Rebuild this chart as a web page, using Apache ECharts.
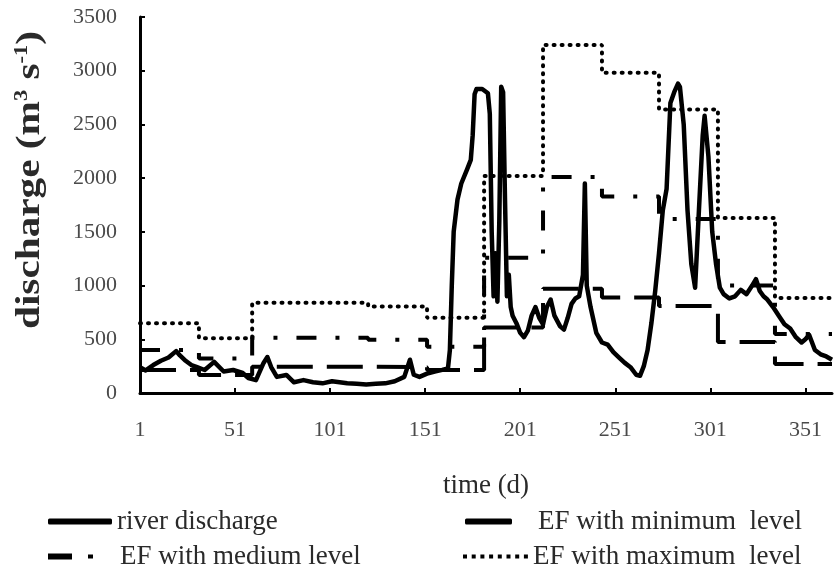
<!DOCTYPE html>
<html>
<head>
<meta charset="utf-8">
<script src="https://cdn.jsdelivr.net/npm/echarts@6/dist/echarts.min.js"></script>
<style>
html,body{margin:0;padding:0;background:#fff;}
#chart{width:835px;height:575px;}
</style>
</head>
<body>
<div id="chart"></div>
<script>
// ---- data ----
const riverDays = [1,4,8,12,16,20,22,25,28,31,35,40,45,50,55,58,62,66,68,70,73,78,82,87,92,97,102,106,110,115,120,125,130,135,140,143,145,148,152,156,160,163,164,165,166,168,170,173,175,176,177,178,181,184,185,186,187,188,189,190,191,192,193,194,195,196,197,199,201,203,205,207,209,211,213,215,217,219,222,224,226,228,230,232,234,235,236,238,241,244,247,250,253,256,259,262,264,266,268,270,272,274,276,278,280,282,284,285,287,289,291,293,295,297,298,300,302,304,306,308,311,314,317,320,323,325,327,329,331,334,337,340,343,346,349,351,353,356,359,362,365];
const riverValues = [240,210,260,300,330,390,350,300,260,240,214,290,200,214,186,140,120,280,335,242,150,168,100,120,100,90,110,100,90,85,80,85,90,110,150,310,170,150,180,200,215,230,400,1000,1500,1800,1950,2080,2170,2400,2780,2830,2830,2790,2600,1500,900,1300,850,1600,2850,2800,1800,900,1100,800,720,650,560,520,580,720,800,700,640,800,870,720,620,590,700,830,880,900,1100,1950,1000,800,560,470,450,380,330,280,240,170,160,250,400,650,950,1300,1700,1900,2700,2800,2880,2850,2500,1700,1200,980,1700,2400,2580,2200,1500,1200,980,920,880,900,960,920,1000,1060,950,900,870,800,720,640,600,520,470,500,540,400,360,340,310];

const monthStarts = [1,32,60,91,121,152,182,213,244,274,305,335];
const lastDay = 365;
const efMin    = [214,168,245,245,240,214,610,970,890,810,475,270];
const efMedium = [400,320,515,515,495,430,1260,2010,1830,1620,1000,550];
const efMax    = [650,510,840,840,805,700,2020,3240,2980,2640,1630,884];

const yTicks = {min: 0, max: 3500, step: 500};
const xTickStep = 50;

const seriesNames = ['river discharge','EF with minimum  level','EF with medium level','EF with maximum  level'];
const xTitle = 'time (d)';

// ---- build ----
const serif = '"Liberation Serif","Times New Roman",serif';
function stepData(vals){
  const d = monthStarts.map((s,i)=>[s-1, vals[i]]);
  d.push([lastDay-1, vals[vals.length-1]]);
  return d;
}
const riverData = riverDays.map((d,i)=>[d-1, riverValues[i]]);

const chart = echarts.init(document.getElementById('chart'), null, {renderer:'canvas'});
const legendText = {fontFamily: serif, fontSize: 27, color: '#2a2a2a'};
function mkLegend(name, left, top, icon, w, h, pad){
  return {
    data:[{name:name, icon:icon}], left:left, top:top, padding:0,
    itemWidth:w, itemHeight:h, selectedMode:false,
    formatter: pad ? '{p|}' + '{t|' + name + '}' : '{t|' + name + '}',
    textStyle: Object.assign({}, legendText, {rich:{p:{width:pad||0}, t:legendText}})
  };
}
let dots = '';
for (let i=0;i<8;i++){ const x=(i*8.7).toFixed(1); dots += 'M'+x+',0h4v4h-4z '; }

const option = {
  backgroundColor:'#fff',
  animation:false,
  grid:{left:140, right:3, top:17, bottom:182, containLabel:false, outerBoundsMode:'none'},
  xAxis:{
    type:'value', min:0, max:lastDay-1, interval:xTickStep,
    name: xTitle, nameLocation:'middle', nameGap:79,
    nameTextStyle:{fontFamily:serif, fontSize:27, color:'#2a2a2a'},
    axisLine:{show:true, onZero:false, lineStyle:{color:'#000', width:3}},
    axisTick:{show:true, inside:true, length:5, lineStyle:{color:'#000', width:2}},
    axisLabel:{show:true, margin:26, fontFamily:serif, fontSize:22, color:'#4a4a4a',
      showMaxLabel:false, formatter:function(v){ return String(v+1); }},
    splitLine:{show:false}
  },
  yAxis:{
    type:'value', min:yTicks.min, max:yTicks.max, interval:yTicks.step,
    axisLine:{show:true, lineStyle:{color:'#000', width:3}},
    axisTick:{show:true, inside:true, length:5, lineStyle:{color:'#000', width:2}},
    axisLabel:{show:true, margin:23, fontFamily:serif, fontSize:22, color:'#4a4a4a',
      formatter:function(v){ return String(v); }},
    splitLine:{show:false}
  },
  legend:[
    mkLegend(seriesNames[0], 48, 508, 'roundRect', 64, 6, 0),
    mkLegend(seriesNames[1], 465, 508, 'roundRect', 47, 6, 21),
    mkLegend(seriesNames[2], 48, 543, 'path://M0,0H24V6H0Z M40,1H45V5H40Z', 45, 6, 22),
    mkLegend(seriesNames[3], 463, 543, 'path://' + dots, 65, 4, 0)
  ],
  graphic:[{
    type:'text', x:30, y:180, rotation:Math.PI/2, scaleX:1.25,
    style:{
      text:'discharge (m{sup|3} s{sup|-1})',
      fontFamily:serif, fontSize:33, fontWeight:'bold', fill:'#2a2a2a',
      align:'center', verticalAlign:'middle',
      rich:{sup:{fontFamily:serif, fontSize:18, fontWeight:'bold', fill:'#2a2a2a', verticalAlign:'top', padding:[0,0,14,0]}}
    }
  }],
  series:[
    {name:seriesNames[0], type:'line', data:riverData, symbol:'none', z:3,
      itemStyle:{color:'#000'}, lineStyle:{color:'#000', width:4.5, join:'round'}},
    {name:seriesNames[1], type:'line', data:stepData(efMin), step:'end', symbol:'none', z:2,
      itemStyle:{color:'#000'}, lineStyle:{color:'#000', width:4, type:[36,14]}},
    {name:seriesNames[2], type:'line', data:stepData(efMedium), step:'end', symbol:'none', z:2,
      itemStyle:{color:'#000'}, lineStyle:{color:'#000', width:4, type:[20,19,4,19]}},
    {name:seriesNames[3], type:'line', data:stepData(efMax), step:'end', symbol:'none', z:2,
      itemStyle:{color:'#000'}, lineStyle:{color:'#000', width:4, type:[1,7], cap:'round'}}
  ]
};
chart.setOption(option);
</script>
</body>
</html>
